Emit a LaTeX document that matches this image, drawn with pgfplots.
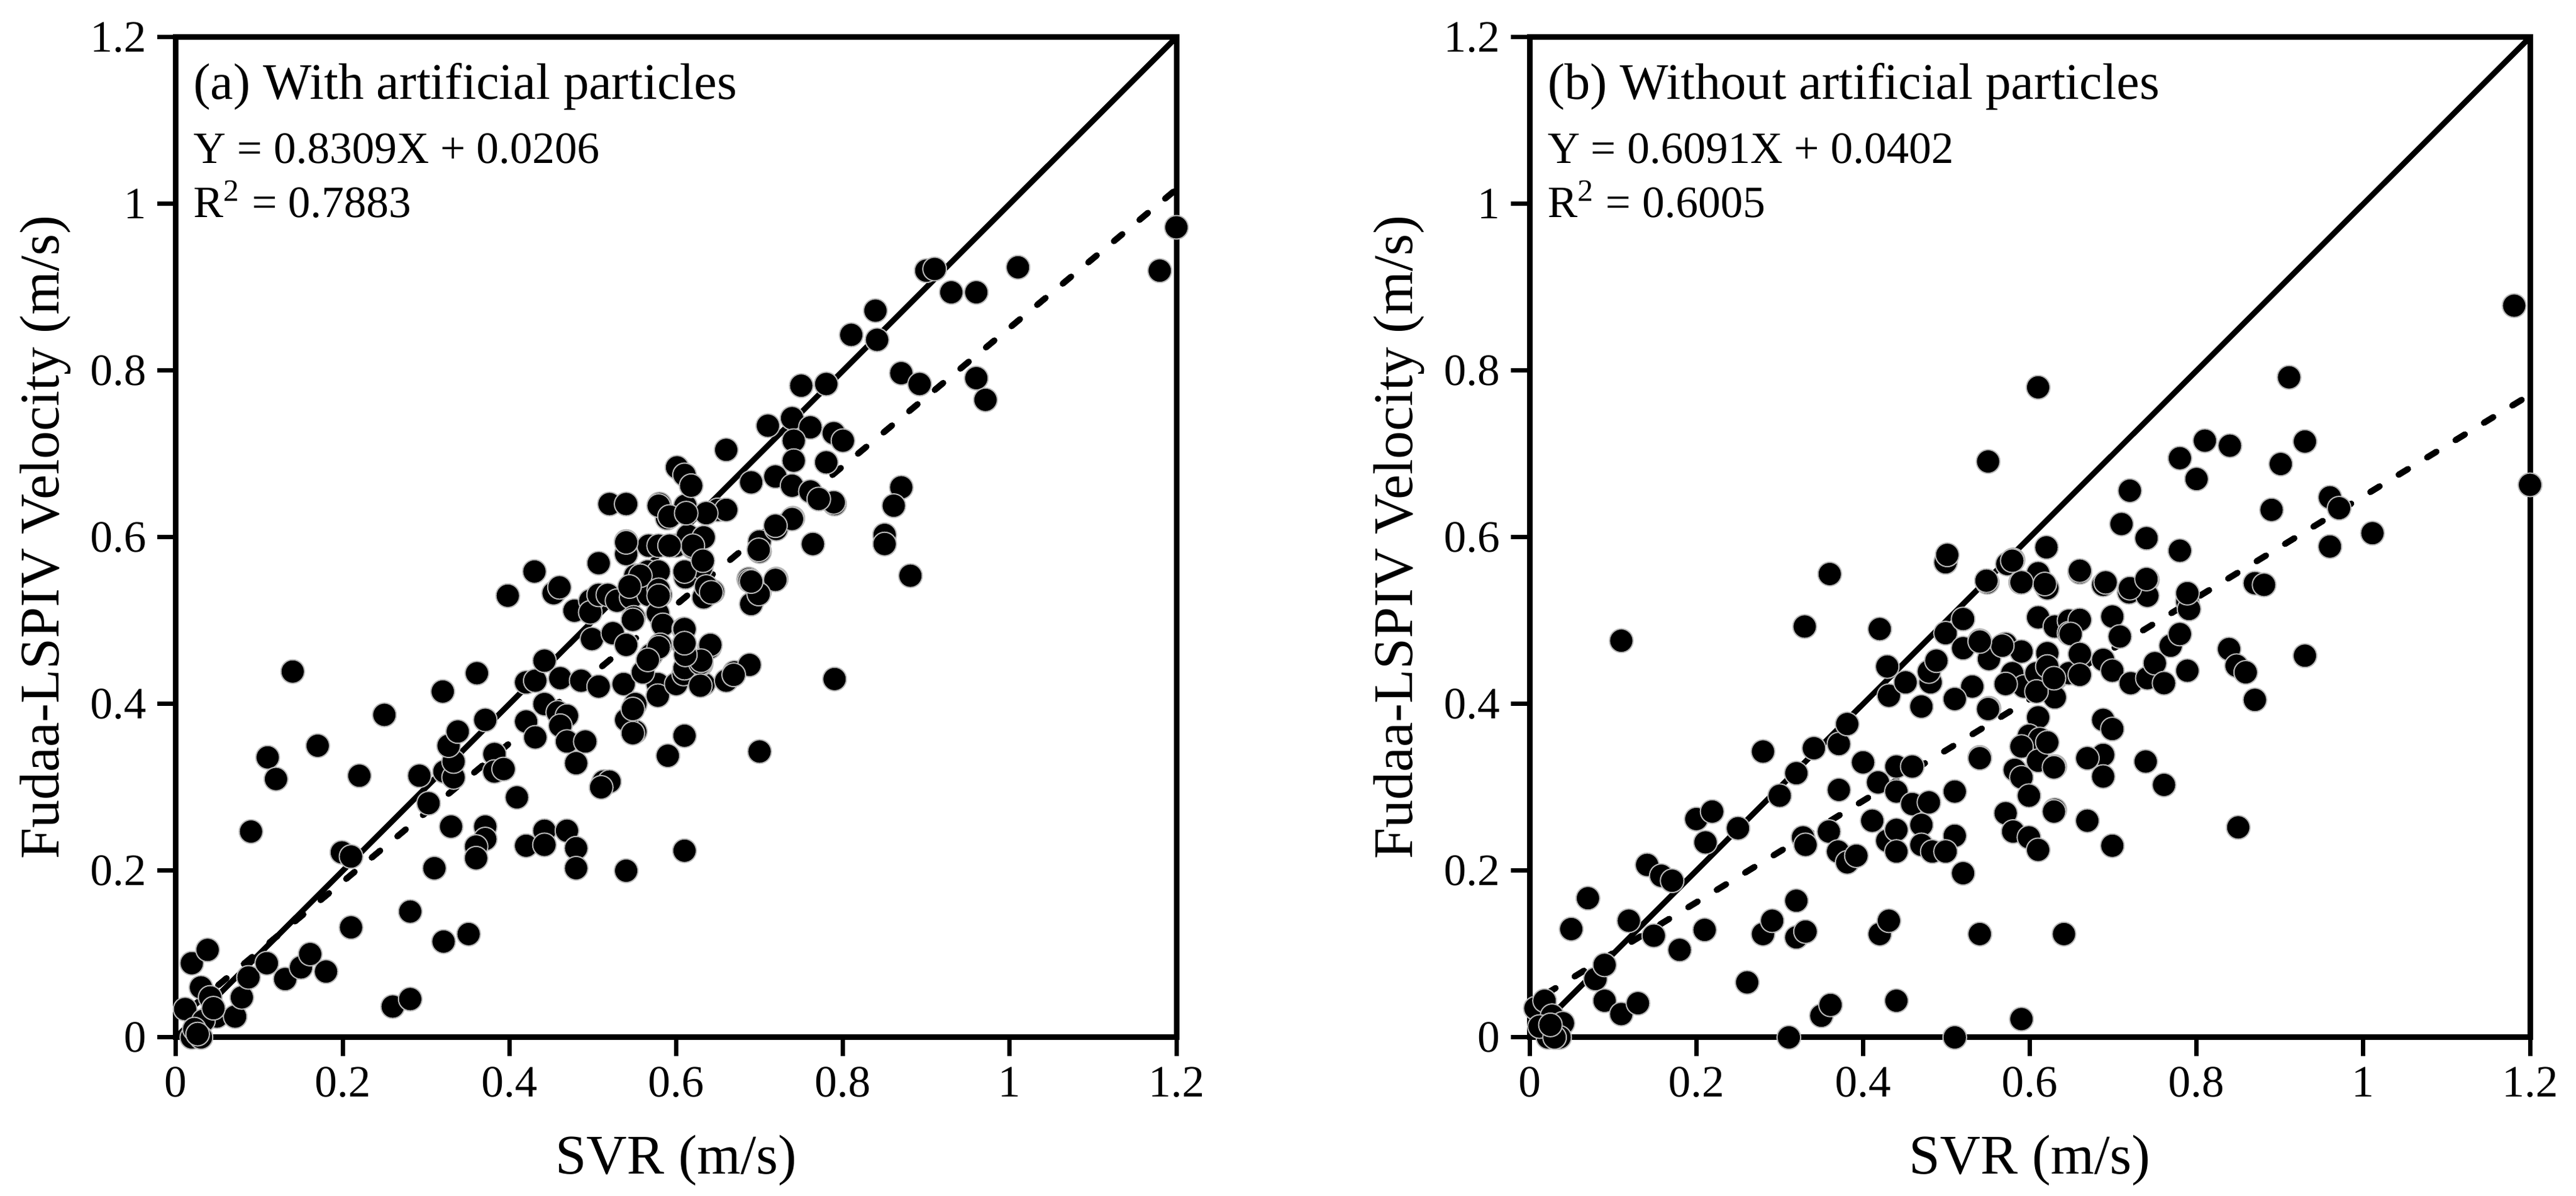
\documentclass[border=0pt]{standalone}
\usepackage{fontspec}
\setmainfont{Liberation Serif}
\usepackage{pgfplots}
\pgfplotsset{compat=1.18}
\pgfplotsset{
  myax/.style={
    scale only axis, width=321.8pt, height=321.6pt,
    xmin=0, xmax=1.2, ymin=0, ymax=1.2,
    xtick={0,0.2,0.4,0.6,0.8,1,1.2}, ytick={0,0.2,0.4,0.6,0.8,1,1.2},
    tick align=outside, xtick pos=bottom, ytick pos=left,
    major tick length=6pt,
    every tick/.style={black, line width=1.4pt},
    axis line style={line width=1.8pt},
    /pgf/number format/assume math mode=true,
    ticklabel style={font=\fontsize{14.4}{16}\selectfont},
    clip=false,
  },
  pts/.style={only marks, mark=*, mark size=3.8pt,
    mark options={fill=black, draw=gray!55, line width=0.4pt}},
  fitline/.style={black, line width=2pt, line cap=round, dash pattern=on 3.5pt off 7.2pt},
}
\begin{document}
\begin{tikzpicture}
\useasboundingbox (-56.6pt,-51pt) rectangle (772pt,333.6pt);
\begin{axis}[myax, at={(0pt,0pt)}, anchor=south west]
\addplot[pts] coordinates {
(0.011,0.034)(0.019,0.089)(0.038,0.105)(0.030,0.060)(0.041,0.048)(0.049,0.025)(0.033,0.020)(0.071,0.025)(0.079,0.048)(0.087,0.072)(0.109,0.089)(0.131,0.070)(0.150,0.084)(0.161,0.100)(0.180,0.079)(0.019,0.000)(0.030,0.000)(0.022,0.010)(0.026,0.004)(0.045,0.035)
(0.09,0.247)(0.11,0.336)(0.12,0.31)(0.14,0.439)(0.17,0.35)(0.22,0.314)(0.25,0.387)(0.199,0.222)(0.21,0.217)(0.21,0.132)(0.26,0.037)(0.281,0.046)(0.281,0.151)(0.31,0.203)(0.321,0.115)(0.351,0.124)(0.33,0.253)(0.292,0.314)(0.303,0.281)(0.322,0.319)(0.333,0.312)(0.333,0.331)(0.327,0.35)(0.338,0.367)(0.32,0.415)(0.361,0.437)(0.371,0.381)(0.382,0.34)(0.382,0.319)(0.393,0.322)(0.371,0.253)(0.371,0.238)(0.36,0.229)(0.36,0.215)(0.409,0.288)(0.42,0.23)(0.442,0.248)(0.442,0.231)(0.469,0.248)(0.48,0.227)(0.48,0.203)(0.42,0.379)(0.431,0.36)(0.42,0.426)(0.431,0.428)(0.442,0.452)(0.461,0.431)(0.486,0.428)(0.442,0.4)(0.458,0.39)(0.469,0.386)(0.461,0.374)(0.469,0.355)(0.491,0.355)(0.48,0.329)(0.398,0.53)(0.43,0.559)(0.453,0.533)(0.46,0.54)(0.507,0.569)(0.513,0.307)(0.52,0.307)(0.51,0.30)(0.54,0.20)(0.61,0.224)(0.59,0.338)(0.61,0.362)(0.70,0.343)(0.79,0.43)(0.507,0.421)(0.537,0.424)(0.551,0.40)(0.551,0.367)(0.54,0.381)(0.578,0.424)(0.578,0.41)(0.60,0.424)(0.609,0.436)(0.633,0.424)(0.63,0.448)(0.61,0.443)(0.56,0.438)(0.66,0.428)(0.67,0.438)(0.688,0.447)(0.669,0.435)(0.64,0.468)(0.629,0.449)(0.629,0.422)(0.548,0.394)(0.548,0.365)
(0.478,0.512)(0.497,0.524)(0.497,0.51)(0.507,0.531)(0.518,0.531)(0.529,0.524)(0.546,0.528)(0.499,0.478)(0.524,0.485)(0.54,0.471)(0.551,0.554)(0.549,0.504)(0.567,0.531)(0.581,0.531)(0.578,0.509)(0.584,0.495)(0.57,0.459)(0.581,0.471)(0.609,0.471)(0.609,0.49)(0.641,0.471)(0.63,0.452)(0.611,0.459)(0.567,0.59)(0.589,0.623)(0.60,0.59)(0.62,0.588)(0.614,0.602)(0.633,0.60)(0.611,0.552)(0.63,0.564)(0.633,0.528)(0.644,0.535)(0.611,0.638)(0.65,0.633)(0.66,0.633)(0.52,0.64)(0.54,0.64)(0.58,0.64)(0.54,0.595)(0.54,0.58)(0.69,0.52)(0.70,0.535)(0.687,0.55)(0.72,0.55)(0.70,0.583)(0.70,0.595)(0.72,0.61)(0.74,0.623)(0.764,0.592)(0.79,0.64)(0.66,0.705)(0.601,0.684)(0.61,0.675)(0.618,0.662)(0.69,0.666)(0.719,0.673)(0.739,0.662)(0.761,0.655)(0.789,0.642)(0.771,0.646)(0.87,0.66)(0.861,0.638)(0.85,0.603)(0.85,0.592)(0.881,0.554)(0.739,0.622)(0.719,0.614)(0.699,0.585)(0.688,0.548)(0.636,0.629)(0.579,0.638)(0.592,0.625)(0.612,0.629)(0.62,0.59)(0.61,0.559)(0.632,0.572)(0.579,0.59)(0.592,0.59)(0.566,0.559)(0.579,0.559)(0.54,0.594)(0.557,0.554)(0.544,0.541)(0.579,0.537)(0.636,0.541)(0.61,0.49)(0.61,0.473)(0.579,0.468)(0.566,0.453)(0.548,0.501)(0.579,0.53)(0.642,0.534)(0.719,0.549)(0.699,0.532)(0.69,0.547)
(0.71,0.734)(0.739,0.743)(0.761,0.732)(0.789,0.725)(0.80,0.716)(0.741,0.716)(0.741,0.692)(0.78,0.69)(0.75,0.782)(0.78,0.784)(0.81,0.843)(0.841,0.837)(0.839,0.872)(0.87,0.797)(0.892,0.784)(0.96,0.791)(0.971,0.765)(0.90,0.92)(0.91,0.922)(0.93,0.894)(0.96,0.894)(1.01,0.924)(1.18,0.92)(1.2,0.972)
};
\addplot[black, line width=1.8pt] coordinates {(0,0)(1.2,1.2)};
\addplot[fitline] coordinates {(0.02,0.0372)(1.2,1.0177)};
\end{axis}
\begin{axis}[myax, at={(435.4pt,0pt)}, anchor=south west]
\addplot[pts] coordinates {
(0.007,0.035)(0.018,0.044)(0.027,0.026)(0.04,0.017)(0.022,0.0)(0.036,0.0)(0.012,0.013)(0.03,0.0)(0.025,0.015)
(0.05,0.13)(0.07,0.167)(0.079,0.07)(0.09,0.087)(0.09,0.044)(0.11,0.028)(0.13,0.041)(0.119,0.14)(0.149,0.122)(0.18,0.105)(0.21,0.129)(0.141,0.207)(0.158,0.194)(0.171,0.188)(0.2,0.262)(0.219,0.271)(0.211,0.234)(0.25,0.251)(0.261,0.066)(0.28,0.124)(0.291,0.14)(0.28,0.343)(0.3,0.29)(0.32,0.317)(0.32,0.164)(0.32,0.12)(0.331,0.127)(0.311,0.0)(0.35,0.026)(0.361,0.039)(0.341,0.347)(0.371,0.352)(0.381,0.376)(0.328,0.24)(0.331,0.231)(0.359,0.247)(0.37,0.223)(0.381,0.21)(0.392,0.218)(0.371,0.297)(0.4,0.33)(0.418,0.306)(0.44,0.325)(0.459,0.325)(0.44,0.295)(0.411,0.26)(0.429,0.236)(0.44,0.249)(0.44,0.223)(0.459,0.28)(0.479,0.282)(0.47,0.255)(0.47,0.231)(0.483,0.223)(0.42,0.124)(0.431,0.14)(0.44,0.044)(0.51,0.0)(0.51,0.295)(0.51,0.242)(0.499,0.223)(0.52,0.197)(0.54,0.336)(0.54,0.124)(0.641,0.124)(0.59,0.022)(0.11,0.476)(0.33,0.493)(0.36,0.556)(0.42,0.49)(0.429,0.445)(0.431,0.41)(0.451,0.426)(0.47,0.397)(0.481,0.426)(0.479,0.439)(0.488,0.452)(0.499,0.485)(0.52,0.467)(0.52,0.502)(0.54,0.476)(0.499,0.57)(0.501,0.579)(0.549,0.546)(0.573,0.568)(0.589,0.546)(0.61,0.557)(0.621,0.539)(0.55,0.691)(0.61,0.78)(0.62,0.588)(0.58,0.573)
(0.61,0.504)(0.63,0.493)(0.647,0.5)(0.647,0.485)(0.551,0.454)(0.571,0.472)(0.59,0.463)(0.579,0.437)(0.593,0.421)(0.608,0.437)(0.621,0.461)(0.632,0.432)(0.63,0.408)(0.608,0.415)(0.531,0.421)(0.51,0.406)(0.551,0.395)(0.571,0.424)(0.647,0.437)(0.621,0.445)(0.61,0.384)(0.599,0.362)(0.612,0.358)(0.59,0.349)(0.61,0.332)(0.582,0.321)(0.59,0.312)(0.599,0.29)(0.63,0.325)(0.63,0.273)(0.571,0.269)(0.58,0.247)(0.599,0.24)(0.61,0.225)(0.55,0.394)(0.567,0.47)(0.54,0.475)(0.629,0.431)(0.621,0.354)(0.629,0.324)(0.54,0.335)
(0.66,0.558)(0.66,0.501)(0.649,0.484)(0.66,0.46)(0.66,0.435)(0.688,0.543)(0.699,0.505)(0.708,0.481)(0.688,0.453)(0.699,0.44)(0.721,0.425)(0.741,0.431)(0.75,0.449)(0.761,0.425)(0.769,0.47)(0.78,0.484)(0.789,0.44)(0.789,0.523)(0.791,0.514)(0.719,0.534)(0.741,0.549)(0.741,0.53)(0.87,0.545)(0.881,0.543)(0.839,0.466)(0.848,0.446)(0.859,0.438)(0.87,0.405)(0.93,0.458)(0.85,0.252)(0.688,0.381)(0.699,0.37)(0.688,0.339)(0.669,0.335)(0.688,0.313)(0.739,0.331)(0.761,0.303)(0.629,0.271)(0.669,0.26)(0.699,0.23)
(0.66,0.56)(0.691,0.546)(0.72,0.539)(0.74,0.55)(0.78,0.584)(0.71,0.616)(0.74,0.599)(0.72,0.656)(0.789,0.533)(0.78,0.695)(0.8,0.67)(0.81,0.716)(0.84,0.71)(0.89,0.633)(0.901,0.688)(0.93,0.715)(0.911,0.792)(0.96,0.648)(0.971,0.635)(0.96,0.589)(1.011,0.605)(0.548,0.548)(0.59,0.546)(0.618,0.544)(0.579,0.572)(1.181,0.878)(1.2,0.663)
};
\addplot[black, line width=1.8pt] coordinates {(0,0)(1.2,1.2)};
\addplot[fitline] coordinates {(0.02,0.0524)(1.2,0.7711)};
\end{axis}
% axis labels and annotations
\node[rotate=90, font=\fontsize{18}{20}\selectfont] at (-42pt,160.8pt) {Fudaa-LSPIV Velocity (m/s)};
\node[rotate=90, font=\fontsize{18}{20}\selectfont] at (393.4pt,160.8pt) {Fudaa-LSPIV Velocity (m/s)};
\node[anchor=base, font=\fontsize{18}{20}\selectfont, inner sep=0pt] at (160.9pt,-44pt) {SVR (m/s)};
\node[anchor=base, font=\fontsize{18}{20}\selectfont, inner sep=0pt] at (596.3pt,-44pt) {SVR (m/s)};
\node[anchor=base west, inner sep=0pt, font=\fontsize{16.5}{18}\selectfont] at (5.5pt,301.6pt) {(a) With artificial particles};
\node[anchor=base west, inner sep=0pt, font=\fontsize{14.4}{16}\selectfont] at (5.5pt,281pt) {Y = 0.8309X + 0.0206};
\node[anchor=base west, inner sep=0pt, font=\fontsize{14.4}{16}\selectfont] at (5.5pt,263.6pt) {R\textsuperscript{2} = 0.7883};
\node[anchor=base west, inner sep=0pt, font=\fontsize{16.5}{18}\selectfont] at (441pt,301.6pt) {(b) Without artificial particles};
\node[anchor=base west, inner sep=0pt, font=\fontsize{14.4}{16}\selectfont] at (441pt,281pt) {Y = 0.6091X + 0.0402};
\node[anchor=base west, inner sep=0pt, font=\fontsize{14.4}{16}\selectfont] at (441pt,263.6pt) {R\textsuperscript{2} = 0.6005};
\end{tikzpicture}
\end{document}
